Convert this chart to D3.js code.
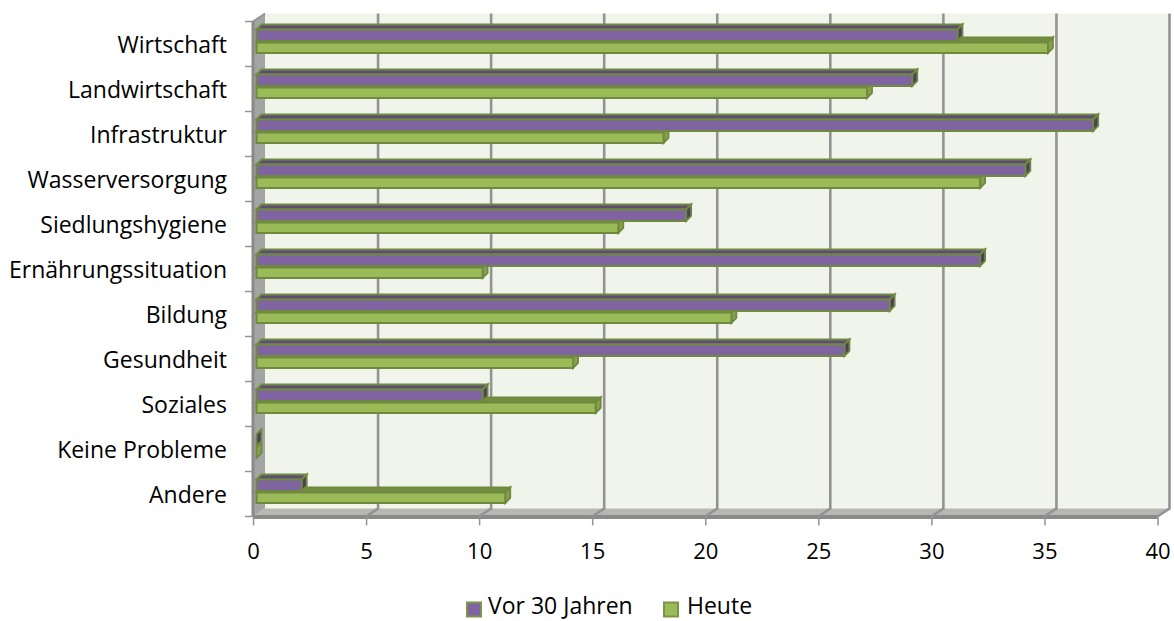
<!DOCTYPE html>
<html><head><meta charset="utf-8">
<script src="https://cdn.jsdelivr.net/npm/d3@7"></script>
<style>html,body{margin:0;padding:0;background:#fff;overflow:hidden}svg{display:block}text{font-family:"Open Sans",Lato,sans-serif;fill:#000}</style>
</head><body><svg id="c" width="1174" height="621"></svg>
<script>
const categories=["Wirtschaft","Landwirtschaft","Infrastruktur","Wasserversorgung","Siedlungshygiene","Ernährungssituation","Bildung","Gesundheit","Soziales","Keine Probleme","Andere"];
const vor30=[31,29,37,34,19,32,28,26,10,0,2];
const heute=[35,27,18,32,16,10,21,14,15,0,11];
const seriesNames=["Vor 30 Jahren","Heute"];
const xTicks=[0,5,10,15,20,25,30,35,40];
const colors={purple:{front:"#8064a2",top:"#5f4a79",side:"#4f3d66"},green:{front:"#9bbb59",top:"#748c42",side:"#86a04c"},edge:"#6f8a3e"};
const labelSize=23,tickSize=22;

const svg=d3.select("#c");
const x=d3.scaleLinear().domain([0,40]).range([253,1157.5]);
const y=d3.scaleBand().domain(categories).range([21.5,516.5]);
const dx=12,dy=-8,grey="#939393";
const pts=a=>a.map(p=>p.join(",")).join(" ");
const [yT,yB]=y.range();

// walls
svg.append("rect").attr("x",x(0)+dx).attr("y",yT+dy).attr("width",x(40)-x(0)).attr("height",yB-yT).attr("fill","#f1f4ea");
svg.append("polygon").attr("points",pts([[x(0),yT],[x(0)+dx,yT+dy],[x(0)+dx,yB+dy],[x(0),yB]])).attr("fill","#a3a5a2");
svg.append("polygon").attr("points",pts([[x(0),yB],[x(0)+dx,yB+dy],[x(40)+dx,yB+dy],[x(40),yB]])).attr("fill","#b6b8b1");
svg.append("line").attr("x1",x(0)).attr("x2",x(40)).attr("y1",yB+.5).attr("y2",yB+.5).attr("stroke","#8a8a8a").attr("stroke-width",4);
svg.append("line").attr("x1",x(0)).attr("x2",x(0)).attr("y1",yT).attr("y2",yB).attr("stroke","#8a8a8a").attr("stroke-width",3);

// gridlines
xTicks.slice(1).forEach(t=>{
  svg.append("polyline").attr("fill","none").attr("stroke",grey).attr("stroke-width",2.6)
    .attr("points",pts([[x(t)+dx,yT+dy],[x(t)+dx,yB+dy],[x(t),yB]]));
});
svg.append("line").attr("x1",x(0)).attr("y1",yT).attr("x2",x(0)+dx).attr("y2",yT+dy).attr("stroke",grey).attr("stroke-width",2);

// axes
const ax=d3.axisBottom(x).tickValues(xTicks).tickSize(9).tickPadding(18).tickFormat(d3.format("d"));
const gx=svg.append("g").attr("transform",`translate(0,${yB})`).call(ax);
gx.select(".domain").remove();
gx.selectAll("line").attr("stroke",grey).attr("stroke-width",1.5);
gx.selectAll("text").attr("font-size",tickSize).attr("fill","#000");
const ay=d3.axisLeft(y).tickSize(0).tickPadding(26);
const gy=svg.append("g").attr("transform",`translate(${x(0)},2)`).call(ay);
gy.select(".domain").remove();
gy.selectAll("text").attr("font-size",labelSize).attr("fill","#000").attr("text-anchor","end");
svg.append("g").selectAll("line").data(d3.range(categories.length+1)).join("line")
  .attr("x1",x(0)-8).attr("x2",x(0)).attr("y1",i=>yT+i*y.step()).attr("y2",i=>yT+i*y.step())
  .attr("stroke",grey).attr("stroke-width",1.5);

// bars
const bdx=5,bdy=5;
function bar(v,top,h,c){
  const x0=x(0)+3.5,x1=x0+(x(v)-x(0));
  const g=svg.append("g");
  g.append("polygon").attr("points",pts([[x0,top],[x0+bdx,top-bdy],[x1+bdx,top-bdy],[x1,top]])).attr("fill",c.top).attr("stroke",colors.edge).attr("stroke-width",1.8);
  g.append("polygon").attr("points",pts([[x1,top],[x1+bdx,top-bdy],[x1+bdx,top+h-bdy],[x1,top+h]])).attr("fill",c.side).attr("stroke",colors.edge).attr("stroke-width",1.8);
  g.append("rect").attr("x",x0).attr("y",top).attr("width",Math.max(x1-x0,0)).attr("height",h).attr("fill",c.front).attr("stroke",colors.edge).attr("stroke-width",2);
}
categories.forEach((cat,i)=>{
  const b=y(cat);
  bar(heute[i],b+21,10.5,colors.green);
  bar(vor30[i],b+8,11.5,colors.purple);
});

// legend
const lg=svg.append("g");
[[466,488,seriesNames[0],colors.purple.front],[663,687,seriesNames[1],colors.green.front]].forEach(([lx,tx,t,f])=>{
  lg.append("rect").attr("x",lx+1).attr("y",602.5).attr("width",14).attr("height",14).attr("fill",f).attr("stroke","#7b9448").attr("stroke-width",2);
  lg.append("text").attr("x",tx).attr("y",614).attr("font-size",labelSize).text(t);
});
</script></body></html>
